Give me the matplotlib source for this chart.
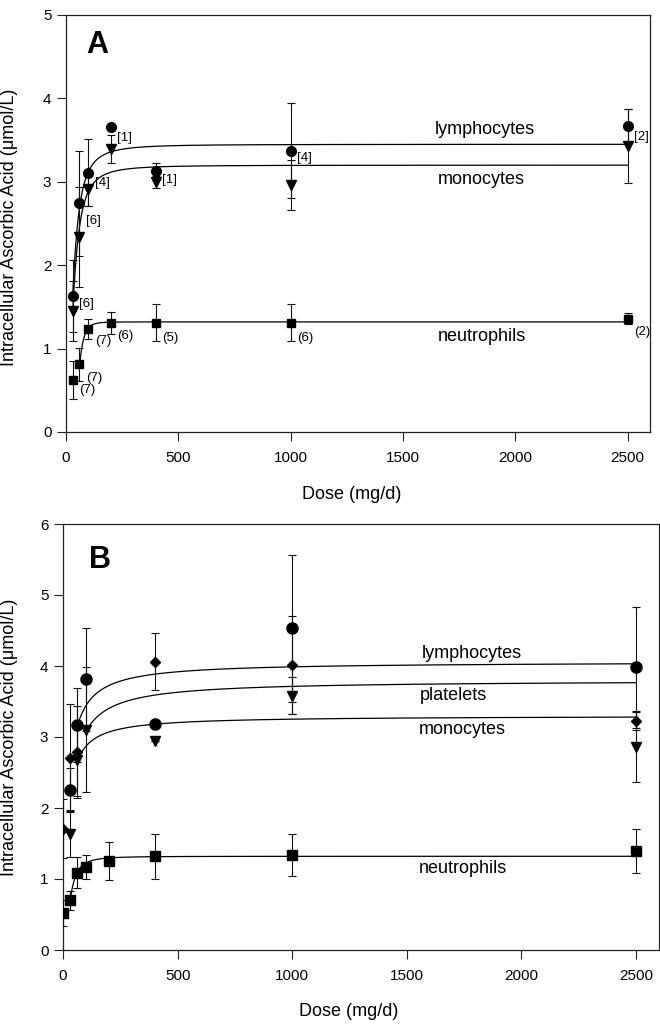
import numpy as np
import matplotlib
matplotlib.use("Agg")
import matplotlib.pyplot as plt

plt.rcParams['font.family'] = ['Liberation Sans', 'DejaVu Sans']

# ---------------- Panel A data ----------------
a_dose = [30, 60, 100, 200, 400, 1000, 2500]
a_lymph = [1.63, 2.74, 3.11, 3.66, 3.13, 3.37, 3.67]
a_lymph_err = [0.43, 0.63, 0.40, 0.0, 0.10, 0.57, 0.20]
a_mono = [1.45, 2.34, 2.91, 3.39, 3.00, 2.96, 3.43]
a_mono_err = [0.36, 0.60, 0.20, 0.17, 0.07, 0.30, 0.44]
a_neut = [0.62, 0.81, 1.24, 1.31, 1.31, 1.31, 1.36]
a_neut_err = [0.23, 0.20, 0.12, 0.13, 0.22, 0.22, 0.07]

# fitted (Hill) curve parameters: Vmax, K, n, first dose drawn
a_fit_lymph = (3.45, 31.4, 1.95, 30)
a_fit_mono = (3.20, 33.0, 2.0, 30)
a_fit_neut = (1.32, 55.0, 4.8, 60)

# sample size annotations (text, dose, value)
a_n_text = ["[6]", "[6]", "[4]", "[1]", "[1]", "[4]", "[2]",
            "(7)", "(7)", "(7)", "(6)", "(5)", "(6)", "(2)"]
a_n_dose = [30, 60, 100, 200, 400, 1000, 2500,
            30, 60, 100, 200, 400, 1000, 2500]
a_n_val = [1.53, 2.53, 2.99, 3.53, 3.02, 3.28, 3.54,
           0.50, 0.65, 1.09, 1.15, 1.13, 1.13, 1.20]

# ---------------- Panel B data ----------------
b_dose_circ = [30, 60, 100, 400, 1000, 2500]
b_circ = [2.26, 3.17, 3.81, 3.18, 4.53, 3.98]
b_circ_err = [0.30, 0.52, 0.72, 0.0, 1.04, 0.85]

b_dose_diam = [0, 30, 60, 400, 1000, 2500]
b_diam = [1.71, 2.70, 2.79, 4.06, 4.02, 3.23]
b_diam_err = [0.42, 0.76, 0.65, 0.40, 0.69, 0.13]

b_dose_tri = [30, 60, 100, 400, 1000, 2500]
b_tri = [1.64, 2.67, 3.10, 2.95, 3.58, 2.86]
b_tri_err = [0.33, 0.50, 0.88, 0.0, 0.26, 0.49]

b_dose_sq = [0, 30, 60, 100, 200, 400, 1000, 2500]
b_sq = [0.52, 0.70, 1.09, 1.17, 1.25, 1.32, 1.34, 1.39]
b_sq_err = [0.18, 0.13, 0.22, 0.17, 0.27, 0.32, 0.30, 0.31]

b_fit_lymph = (4.06, 18.0, 1.0, 60)
b_fit_plat = (3.80, 23.4, 1.0, 100)
b_fit_mono = (3.30, 15.0, 1.0, 60)
b_fit_neut = (1.32, 29.2, 2.08, 30)

curve_names = ["lymphocytes", "monocytes", "neutrophils"]
curve_names_b = ["lymphocytes", "platelets", "monocytes", "neutrophils"]
curve_label_dose_a = [1865, 1851, 1851]
curve_label_val_a = [3.63, 3.03, 1.14]
curve_label_dose_b = [1783, 1703, 1744, 1744]
curve_label_val_b = [4.18, 3.59, 3.10, 1.15]

x_ticks = [0, 500, 1000, 1500, 2000, 2500]


def hill_curve(params, dmax=2500):
    v, k, n, d0 = params
    d = np.linspace(d0, dmax, 1200)
    return d, v * d ** n / (k ** n + d ** n)


W, H = 660, 1025
fig = plt.figure(figsize=(W / 100, H / 100), dpi=100)

axA = fig.add_axes([66 / W, 1 - 432 / H, 584 / W, 417 / H])
axB = fig.add_axes([63 / W, 1 - 950 / H, 596 / W, 426 / H])

spine_col = "#222222"
ebkw = dict(ecolor="#111111", elinewidth=0.8, capsize=3, capthick=0.8, linestyle="none")


def style(ax, ymax):
    ax.set_xlim(0, 2600)
    ax.set_ylim(0, ymax)
    ax.set_xticks(x_ticks)
    ax.set_yticks(range(0, ymax + 1))
    for s in ax.spines.values():
        s.set_color(spine_col)
        s.set_linewidth(0.9)
    ax.tick_params(direction="out", length=6.5, width=0.8, color=spine_col,
                   labelsize=11, top=False, right=False)
    ax.tick_params(axis="x", pad=7)
    ax.tick_params(axis="y", pad=4)
    ax.set_xlabel("Dose (mg/d)", fontsize=13)
    ax.set_ylabel("Intracellular Ascorbic Acid (\u03bcmol/L)", fontsize=13)


# ---- Panel A ----
style(axA, 5)
for p in (a_fit_lymph, a_fit_mono, a_fit_neut):
    d, y = hill_curve(p)
    axA.plot(d, y, color="black", lw=0.9, zorder=2)
axA.errorbar(a_dose, a_lymph, yerr=a_lymph_err, marker="o", ms=7, mfc="black",
             mec="black", **ebkw, zorder=3)
axA.errorbar(a_dose, a_mono, yerr=a_mono_err, marker="v", ms=7, mfc="black",
             mec="black", **ebkw, zorder=3)
axA.errorbar(a_dose, a_neut, yerr=a_neut_err, marker="s", ms=6, mfc="black",
             mec="black", **ebkw, zorder=3)
for t, xd, yv in zip(a_n_text, a_n_dose, a_n_val):
    axA.annotate(t, (xd, yv), xytext=(4.5, 0), textcoords="offset points",
                 fontsize=9.5, ha="left", va="center")
for t, xd, yv in zip(curve_names, curve_label_dose_a, curve_label_val_a):
    axA.text(xd, yv, t, fontsize=13, ha="center", va="center")
axA.text(138, 4.64, "A", fontsize=22, fontweight="bold", ha="center", va="center")
axA.yaxis.set_label_coords(-0.082, 0.49)
axA.xaxis.set_label_coords(0.49, -0.13)

# ---- Panel B ----
style(axB, 6)
for p in (b_fit_lymph, b_fit_plat, b_fit_mono, b_fit_neut):
    d, y = hill_curve(p)
    axB.plot(d, y, color="black", lw=0.9, zorder=2)
axB.errorbar(b_dose_circ, b_circ, yerr=b_circ_err, marker="o", ms=8, mfc="black",
             mec="black", **ebkw, zorder=3)
axB.errorbar(b_dose_diam, b_diam, yerr=b_diam_err, marker="D", ms=5.5, mfc="black",
             mec="black", **ebkw, zorder=3)
axB.errorbar(b_dose_tri, b_tri, yerr=b_tri_err, marker="v", ms=7.5, mfc="black",
             mec="black", **ebkw, zorder=3)
axB.errorbar(b_dose_sq, b_sq, yerr=b_sq_err, marker="s", ms=6.5, mfc="black",
             mec="black", **ebkw, zorder=3)
for t, xd, yv in zip(curve_names_b, curve_label_dose_b, curve_label_val_b):
    axB.text(xd, yv, t, fontsize=13, ha="center", va="center")
axB.text(161, 5.49, "B", fontsize=22, fontweight="bold", ha="center", va="center")
axB.yaxis.set_label_coords(-0.0755, 0.5)
axB.xaxis.set_label_coords(0.48, -0.125)

fig.savefig("out.png", dpi=100)
